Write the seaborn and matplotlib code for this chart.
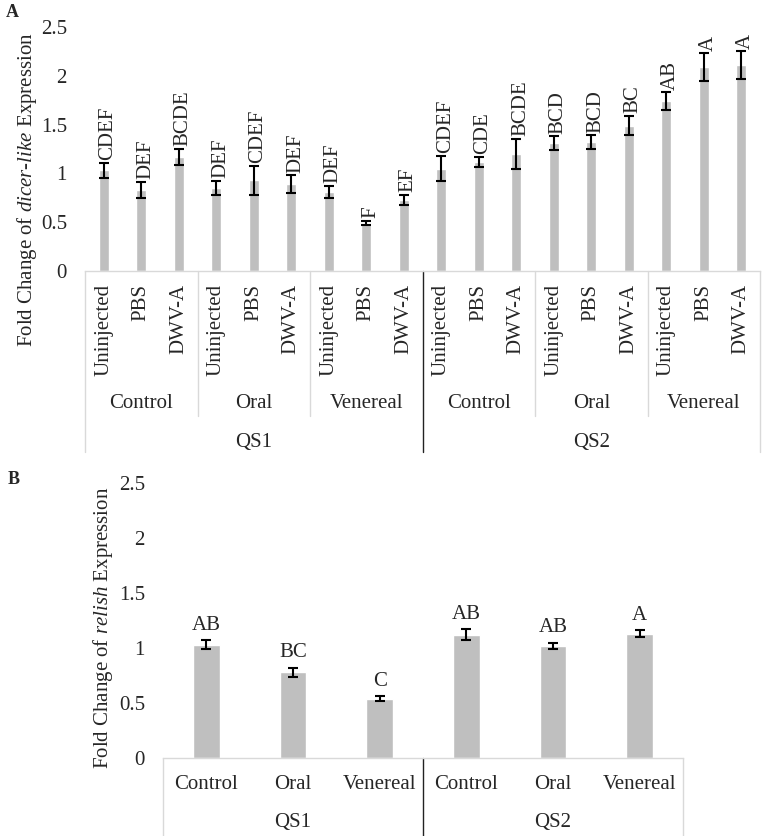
import matplotlib
matplotlib.use("Agg")
import matplotlib.pyplot as plt
import seaborn as sns
import pandas as pd

# === Data ===
sources = ["QS1", "QS2"]
routes = ["Control", "Oral", "Venereal"]
treatments = ["Uninjected", "PBS", "DWV-A"]

# panel A: dicer-like (order: QS1 Control/Oral/Venereal x treatments, then QS2)
dicer_mean = [1.03, 0.83, 1.17, 0.85, 0.93, 0.89, 0.81, 0.49, 0.73,
              1.05, 1.12, 1.20, 1.31, 1.32, 1.49, 1.74, 2.09, 2.11]
dicer_err = [0.08, 0.08, 0.08, 0.07, 0.15, 0.09, 0.06, 0.02, 0.05,
             0.13, 0.05, 0.15, 0.07, 0.07, 0.10, 0.09, 0.14, 0.14]
dicer_letters = ["CDEF", "DEF", "BCDE", "DEF", "CDEF", "DEF", "DEF", "F", "EF",
                 "CDEF", "CDE", "BCDE", "BCD", "BCD", "BC", "AB", "A", "A"]

# panel B: relish
relish_mean = [1.03, 0.78, 0.54, 1.12, 1.02, 1.13]
relish_err = [0.04, 0.04, 0.02, 0.05, 0.03, 0.03]
relish_letters = ["AB", "BC", "C", "AB", "AB", "A"]

yticks = [0, 0.5, 1, 1.5, 2, 2.5]
ytick_labels = ["0", "0.5", "1", "1.5", "2", "2.5"]

sns.set_style("white")
plt.rcParams["font.family"] = ["Liberation Serif", "DejaVu Serif"]
plt.rcParams["mathtext.fontset"] = "custom"
plt.rcParams["mathtext.rm"] = "Liberation Serif"
plt.rcParams["mathtext.it"] = "Liberation Serif:italic"

FS = 15
BAR = "#bfbfbf"
GRID = "#d9d9d9"

fig = plt.figure(figsize=(7.64, 8.36), dpi=100)
axA = fig.add_axes([0.1113, 0.6758, 0.8835, 0.2919])
axB = fig.add_axes([0.2134, 0.0933, 0.6806, 0.3289])


def style_axis(ax):
    ax.set_ylim(0, 2.5)
    ax.set_yticks(yticks)
    ax.set_yticklabels(ytick_labels, fontsize=FS)
    ax.tick_params(axis="y", length=0, pad=13)
    for s in ["top", "right", "left"]:
        ax.spines[s].set_visible(False)
    ax.spines["bottom"].set_color(GRID)
    ax.spines["bottom"].set_linewidth(1.0)
    ax.set_xlabel("")


def below(ax, px):
    # pixel distance below the axis -> axes fraction
    return -px / (ax.get_position().height * fig.get_figheight() * fig.dpi)


def vline(ax, x, px, color, lw=1.0):
    ax.plot([x, x], [0, below(ax, px)], transform=ax.get_xaxis_transform(),
            clip_on=False, color=color, lw=lw)


# ---- Panel A ----
keysA = [f"{s}|{r}|{t}" for s in sources for r in routes for t in treatments]
dfA = pd.DataFrame({"key": keysA, "mean": dicer_mean})
sns.barplot(data=dfA, x="key", y="mean", color=BAR, width=0.27,
            saturation=1, errorbar=None, ax=axA)
xA = list(range(len(keysA)))
axA.errorbar(xA, dicer_mean, yerr=dicer_err, fmt="none", ecolor="black",
             elinewidth=1.5, capsize=3.5, capthick=1.5)
for x, m, e, lab in zip(xA, dicer_mean, dicer_err, dicer_letters):
    axA.annotate(lab, (x, m + e), xytext=(3, 2), textcoords="offset points",
                 rotation=90, ha="center", va="bottom", fontsize=FS)
style_axis(axA)
axA.set_xlim(-0.5, len(keysA) - 0.5)
axA.set_xticks(xA)
axA.set_xticklabels([t for s in sources for r in routes for t in treatments],
                    rotation=90, fontsize=FS)
axA.tick_params(axis="x", length=0, pad=9)
axA.set_ylabel(r"Fold Change of $\mathit{dicer}$-$\mathit{like}$ Expression",
               fontsize=FS)
axA.yaxis.set_label_coords(-0.068, 0.332)

tA = axA.get_xaxis_transform()
for i, s in enumerate(sources):
    for j, r in enumerate(routes):
        c = i * 9 + j * 3 + 1
        axA.text(c, below(axA, 132), r, transform=tA, ha="center", va="center",
                 fontsize=FS)
    axA.text(i * 9 + 4, below(axA, 171), s, transform=tA, ha="center",
             va="center", fontsize=FS)
for b in [2.5, 5.5, 11.5, 14.5]:
    vline(axA, b, 145, GRID)
vline(axA, -0.5, 181, GRID)
vline(axA, 17.5, 181, GRID)
vline(axA, 8.5, 181, "#222222")

# ---- Panel B ----
keysB = [f"{s}|{r}" for s in sources for r in routes]
dfB = pd.DataFrame({"key": keysB, "mean": relish_mean})
sns.barplot(data=dfB, x="key", y="mean", color=BAR, width=0.31,
            saturation=1, errorbar=None, ax=axB)
xB = list(range(len(keysB)))
axB.errorbar(xB, relish_mean, yerr=relish_err, fmt="none", ecolor="black",
             elinewidth=1.5, capsize=3.5, capthick=1.5)
for x, m, e, lab in zip(xB, relish_mean, relish_err, relish_letters):
    axB.annotate(lab, (x, m + e), xytext=(0, 4), textcoords="offset points",
                 ha="center", va="bottom", fontsize=FS)
style_axis(axB)
axB.set_xlim(-0.5, len(keysB) - 0.5)
axB.set_xticks(xB)
axB.set_xticklabels([r for s in sources for r in routes], fontsize=FS)
axB.tick_params(axis="x", length=0, pad=12)
axB.set_ylabel(r"Fold Change of $\mathit{relish}$ Expression", fontsize=FS)
axB.yaxis.set_label_coords(-0.092, 0.473)

tB = axB.get_xaxis_transform()
for i, s in enumerate(sources):
    axB.text(i * 3 + 1, below(axB, 64), s, transform=tB, ha="center",
             va="center", fontsize=FS)
vline(axB, -0.5, 80, GRID)
vline(axB, 5.5, 80, GRID)
vline(axB, 2.5, 80, "#222222")

fig.text(0.008, 0.985, "A", fontsize=13, fontweight="bold", va="center")
fig.text(0.010, 0.426, "B", fontsize=13, fontweight="bold", va="center")

fig.savefig("out.png", dpi=100)
